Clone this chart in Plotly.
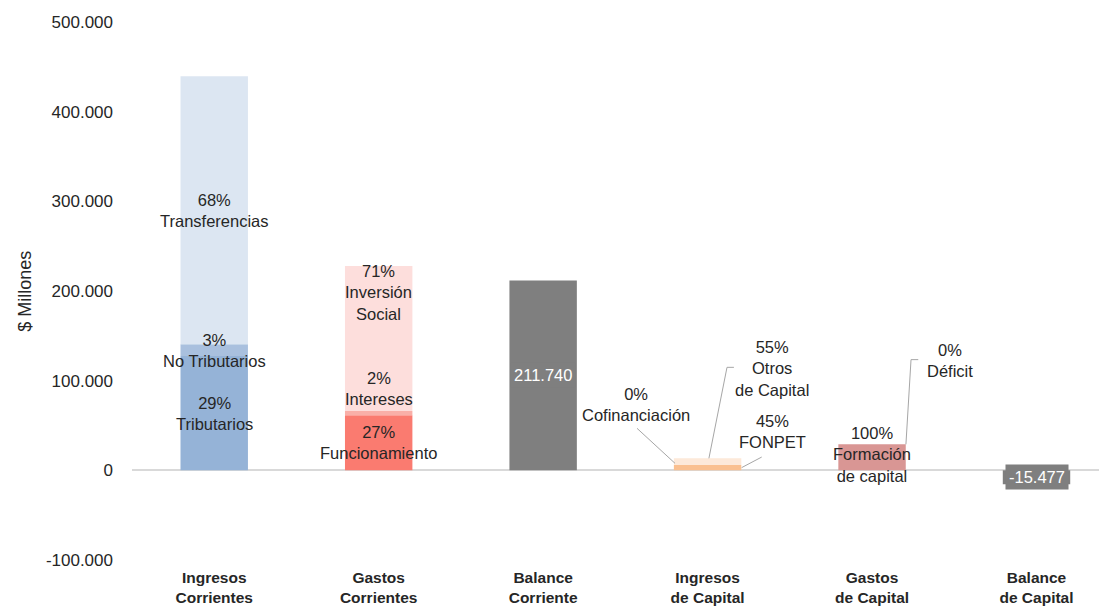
import plotly.graph_objects as go

# ---------------- data ----------------
categories = ["Ingresos<br>Corrientes", "Gastos<br>Corrientes", "Balance<br>Corriente",
              "Ingresos<br>de Capital", "Gastos<br>de Capital", "Balance<br>de Capital"]

ing_corr_names = ["Tributarios", "No Tributarios", "Transferencias"]
ing_corr_values = [127500, 13200, 298800]

gas_corr_names = ["Funcionamiento", "Intereses", "Inversión Social"]
gas_corr_values = [61500, 4600, 161660]

ing_cap_names = ["FONPET", "Otros de Capital", "Cofinanciación"]
ing_cap_values = [6085, 7438, 0]

gas_cap_names = ["Formación de capital", "Déficit"]
gas_cap_values = [29000, 0]

balance_corriente = sum(ing_corr_values) - sum(gas_corr_values)
balance_capital = sum(ing_cap_values) - sum(gas_cap_values)

ytick_vals = [-100000, 0, 100000, 200000, 300000, 400000, 500000]

# ---------------- style ----------------
NARROW = "Liberation Sans Narrow, Arial Narrow, Liberation Sans, Arial, sans-serif"
REG = "Liberation Sans, Arial, sans-serif"
TXT = "#262626"
ing_corr_colors = ["#95B3D7", "#A9C0DE", "#DCE6F2"]
gas_corr_colors = ["#FA7B70", "#F9AFA8", "#FDDEDC"]
ing_cap_colors = ["#FAC090", "#FDE9D9", "#F6D5B5"]
gas_cap_colors = ["#D99694", "#E6B9B8"]
bal_color = "#7F7F7F"
LBL = 16.5

def fmt(v):
    s = f"{abs(v):,.0f}".replace(",", ".")
    return ("-" if v < 0 else "") + s

fig = go.Figure()

def add_stack(cat, names, values, colors):
    for n, v, c in zip(names, values, colors):
        fig.add_trace(go.Bar(x=[cat], y=[v], name=n, marker_color=c,
                             marker_line_width=0, hoverinfo="name+y"))

add_stack(categories[0], ing_corr_names, ing_corr_values, ing_corr_colors)
add_stack(categories[1], gas_corr_names, gas_corr_values, gas_corr_colors)
fig.add_trace(go.Bar(x=[categories[2]], y=[balance_corriente], marker_color=bal_color,
                     marker_line_width=0, name="Balance Corriente"))
add_stack(categories[3], ing_cap_names, ing_cap_values, ing_cap_colors)
add_stack(categories[4], gas_cap_names, gas_cap_values, gas_cap_colors)
fig.add_trace(go.Bar(x=[categories[5]], y=[balance_capital], marker_color=bal_color,
                     marker_line_width=0, name="Balance de Capital"))

def pct(v, vals):
    t = sum(vals)
    return f"{round(100 * v / t):.0f}%" if t else "0%"

def mid(vals, i):
    return sum(vals[:i]) + vals[i] / 2

anns = []
def lab(x, y, text, yshift=0, yanchor="middle"):
    anns.append(dict(x=x, y=y, xref="x", yref="y", text=text, showarrow=False,
                     yshift=yshift, yanchor=yanchor, xanchor="center",
                     font=dict(family=NARROW, size=LBL, color=TXT), align="center"))

# Ingresos corrientes labels (centred in segments)
lab(0, mid(ing_corr_values, 0), pct(ing_corr_values[0], ing_corr_values) + "<br>" + ing_corr_names[0])
lab(0, mid(ing_corr_values, 1), pct(ing_corr_values[1], ing_corr_values) + "<br>" + ing_corr_names[1])
lab(0, mid(ing_corr_values, 2), pct(ing_corr_values[2], ing_corr_values) + "<br>" + ing_corr_names[2])

# Gastos corrientes labels
lab(1, mid(gas_corr_values, 0), pct(gas_corr_values[0], gas_corr_values) + "<br>" + gas_corr_names[0])
lab(1, mid(gas_corr_values, 1), pct(gas_corr_values[1], gas_corr_values) + "<br>" + gas_corr_names[1], yshift=25)
lab(1, sum(gas_corr_values), pct(gas_corr_values[2], gas_corr_values) + "<br>Inversión<br>Social",
    yshift=6, yanchor="top")

# Ingresos de capital labels
lab(2.565, 73600, pct(ing_cap_values[2], ing_cap_values) + "<br>" + ing_cap_names[2])
lab(3.392, 113750, pct(ing_cap_values[1], ing_cap_values) + "<br>Otros<br>de Capital")
lab(3.392, 43500, pct(ing_cap_values[0], ing_cap_values) + "<br>" + ing_cap_names[0])

# Gastos de capital labels
lab(4.0, 17800, pct(gas_cap_values[0], gas_cap_values) + "<br>Formación<br>de capital")
lab(4.474, 122700, pct(gas_cap_values[1], gas_cap_values) + "<br>" + gas_cap_names[1])

# Balance labels
for i, v in [(2, balance_corriente), (5, balance_capital)]:
    anns.append(dict(x=i, y=v / 2, xref="x", yref="y", text=fmt(v), showarrow=False,
                     xanchor="center", yanchor="middle",
                     font=dict(family=NARROW, size=LBL, color="white"),
                     bgcolor=bal_color, borderpad=3))

# y axis title
anns.append(dict(x=-0.111, y=0.5, xref="paper", yref="paper", text="$ Millones",
                 textangle=-90, showarrow=False, xanchor="center", yanchor="middle",
                 font=dict(family=NARROW, size=18, color=TXT)))

# leader lines
line = dict(color="#A6A6A6", width=1)
shapes = [
    dict(type="path", xref="x", yref="y", path="M 2.571 46840 L 2.802 7800", line=line),
    dict(type="path", xref="x", yref="y", path="M 3.008 13400 L 3.118 114870 L 3.160 114870", line=line),
    dict(type="path", xref="x", yref="y", path="M 3.207 3000 L 3.329 14800", line=line),
    dict(type="path", xref="x", yref="y", path="M 4.206 29000 L 4.237 123450 L 4.281 123450", line=line),
]

fig.update_layout(
    width=1099, height=607,
    margin=dict(l=132, r=0, t=22, b=47),
    barmode="relative", bargap=0.59,
    showlegend=False,
    plot_bgcolor="white", paper_bgcolor="white",
    annotations=anns, shapes=shapes,
    font=dict(family=REG, color=TXT),
)
fig.update_xaxes(
    type="category", range=[-0.5, 5.38],
    showgrid=False, showline=False, ticks="",
    tickfont=dict(family=NARROW, size=15.5, color=TXT, weight="bold"),
    ticklabelstandoff=6,
)
fig.update_yaxes(
    range=[-100000, 500000], tickvals=ytick_vals, ticktext=[fmt(v) for v in ytick_vals],
    showgrid=False, showline=False, ticks="",
    zeroline=True, zerolinecolor="#D9D9D9", zerolinewidth=1.5,
    tickfont=dict(family=REG, size=17, color=TXT),
    ticklabelstandoff=18,
)

fig.write_html("out.html", config={"displayModeBar": False})
with open("out.html", encoding="utf-8") as f:
    html = f.read()
html = html.replace("<head>", "<head><style>html,body{margin:0;padding:0;overflow:hidden;}</style>", 1)
with open("out.html", "w", encoding="utf-8") as f:
    f.write(html)
